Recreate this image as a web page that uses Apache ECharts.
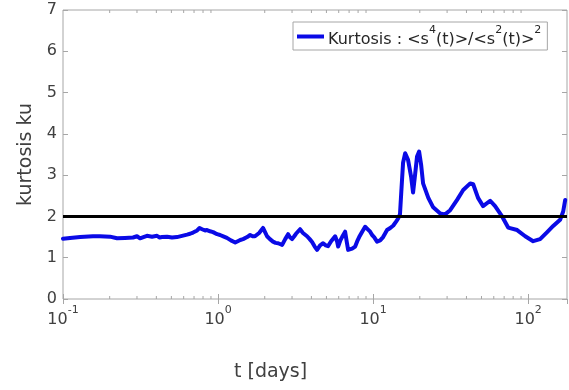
<!DOCTYPE html>
<html>
<head>
<meta charset="utf-8">
<script src="https://cdn.jsdelivr.net/npm/echarts@6/dist/echarts.min.js"></script>
<style>
  html, body { margin: 0; padding: 0; background: #fff; }
  #chart { width: 569px; height: 390px; }
</style>
</head>
<body>
<div id="chart"></div>
<script>
// time in days
const tDays = [
  0.100, 0.111, 0.129, 0.156, 0.173, 0.201, 0.223, 0.251, 0.283, 0.300,
  0.314, 0.330, 0.348, 0.375, 0.404, 0.420, 0.435, 0.469, 0.505, 0.520,
  0.543, 0.586, 0.631, 0.660, 0.690, 0.733, 0.760, 0.789, 0.824, 0.849,
  0.888, 0.929, 0.986, 1.03, 1.09, 1.14, 1.21, 1.29, 1.34, 1.39,
  1.45, 1.54, 1.61, 1.67, 1.73, 1.84, 1.95, 2.01, 2.07, 2.16,
  2.26, 2.35, 2.44, 2.59, 2.71, 2.83, 2.90, 3.00, 3.10, 3.18,
  3.38, 3.53, 3.75, 3.90, 4.04, 4.20, 4.35, 4.55, 4.76, 4.95,
  5.12, 5.36, 5.69, 5.85, 5.95, 6.15, 6.31, 6.60, 6.75, 6.90,
  7.10, 7.32, 7.66, 7.90, 8.13, 8.50, 8.88, 9.28, 9.57, 9.85,
  10.15, 10.6, 11.1, 11.6, 12.0, 12.3, 12.9, 13.5, 14.1, 14.5,
  14.9, 15.2, 15.6, 16.1, 16.8, 17.6, 18.1, 18.7, 19.2, 19.8,
  20.4, 21.0, 22.7, 24.4, 27.1, 29.1, 31.4, 34.8, 38.1, 42.3,
  44.2, 47.5, 51.2, 56.9, 61.2, 67.9, 74.3, 84.9, 95.7, 107.7,
  119.4, 132.6, 145, 160.7, 168.2, 173.3
];
// kurtosis <s^4>/<s^2>^2
const kurtosis = [
  1.46, 1.48, 1.50, 1.52, 1.52, 1.51, 1.47, 1.48, 1.49, 1.52,
  1.47, 1.50, 1.53, 1.51, 1.53, 1.49, 1.50, 1.51, 1.49, 1.53,
  1.50, 1.53, 1.56, 1.58, 1.61, 1.66, 1.72, 1.69, 1.66, 1.67,
  1.64, 1.62, 1.57, 1.55, 1.51, 1.48, 1.42, 1.37, 1.40, 1.43,
  1.45, 1.50, 1.55, 1.52, 1.52, 1.60, 1.72, 1.62, 1.52, 1.45,
  1.39, 1.36, 1.35, 1.31, 1.45, 1.57, 1.50, 1.45, 1.52, 1.58,
  1.69, 1.60, 1.52, 1.45, 1.38, 1.27, 1.19, 1.30, 1.35, 1.30,
  1.28, 1.40, 1.52, 1.40, 1.27, 1.42, 1.50, 1.63, 1.40, 1.19,
  1.21, 1.22, 1.27, 1.40, 1.50, 1.63, 1.75, 1.68, 1.63, 1.55,
  1.50, 1.39, 1.42, 1.50, 1.60, 1.67, 1.72, 1.78, 1.88, 1.95,
  2.05, 2.60, 3.30, 3.53, 3.37, 2.95, 2.58, 3.05, 3.45, 3.57,
  3.25, 2.80, 2.45, 2.22, 2.07, 2.05, 2.15, 2.40, 2.64, 2.80,
  2.78, 2.45, 2.25, 2.38, 2.25, 2.00, 1.73, 1.67, 1.52, 1.40,
  1.45, 1.62, 1.77, 1.92, 2.12, 2.40
];
// Gaussian reference level
const refLevel = 2;
const xMin = 0.1, xMax = 178;
const yMin = 0, yMax = 7;
const yTicks = [0, 1, 2, 3, 4, 5, 6, 7];
const xDecadeLabels = { '-1': '-1', '0': '0', '1': '1', '2': '2' };
// minor (log) tick positions
const minorTicks = [];
for (let e = -1; e <= 2; e++) {
  for (let m = 2; m <= 9; m++) {
    const v = m * Math.pow(10, e);
    if (v < xMax) minorTicks.push(v);
  }
}

const FONT = 'DejaVu Sans';
const LABEL = '#404040';
const FRAME = '#a6a6a6';

const chart = echarts.init(document.getElementById('chart'), null, { renderer: 'canvas' });

function decadeLabel(v) {
  const e = Math.round(Math.log10(v));
  if (Math.abs(Math.log10(v) - e) > 1e-6) return '';
  const key = String(e);
  if (!(key in xDecadeLabels)) return '';
  return '{b|10}{sup|' + xDecadeLabels[key] + '}';
}

const richTick = {
  b: { fontFamily: FONT, fontSize: 16, color: LABEL, verticalAlign: 'bottom', lineHeight: 23 },
  sup: { fontFamily: FONT, fontSize: 11, color: LABEL, verticalAlign: 'top', lineHeight: 23 }
};

const xBase = {
  type: 'log', logBase: 10, min: xMin, max: xMax,
  axisLine: { show: false },
  splitLine: { show: false },
  axisTick: { show: true, inside: true, length: 5, lineStyle: { color: FRAME } }
};
const yBase = {
  type: 'value', min: yMin, max: yMax, interval: 1,
  axisLine: { show: false },
  splitLine: { show: false },
  axisTick: { show: true, inside: true, length: 5, lineStyle: { color: FRAME } }
};

chart.setOption({
  animation: false,
  backgroundColor: '#ffffff',
  grid: { left: 63, top: 10, right: 2, bottom: 91, show: true, borderColor: FRAME, borderWidth: 1, backgroundColor: 'transparent' },
  xAxis: [
    Object.assign({}, xBase, {
      position: 'bottom',
      axisLabel: { margin: 6, formatter: decadeLabel, rich: richTick, showMaxLabel: false }
    }),
    Object.assign({}, xBase, { position: 'top', axisLabel: { show: false } })
  ],
  yAxis: [
    Object.assign({}, yBase, {
      position: 'left',
      name: 'kurtosis ku', nameLocation: 'middle', nameGap: 26,
      nameTextStyle: { fontFamily: FONT, fontSize: 19, color: LABEL },
      axisLabel: { margin: 6, fontFamily: FONT, fontSize: 16, color: LABEL,
        formatter: v => (yTicks.indexOf(v) >= 0 ? String(v) : '') }
    }),
    Object.assign({}, yBase, { position: 'right', axisLabel: { show: false } })
  ],
  legend: {
    data: ['Kurtosis'],
    left: 293, top: 22,
    orient: 'horizontal',
    selectedMode: false,
    backgroundColor: '#ffffff',
    borderColor: FRAME, borderWidth: 1, borderRadius: 0,
    padding: [3, 6, 2, 4],
    icon: 'rect', itemWidth: 27, itemHeight: 4, itemGap: 5,
    formatter: () => '{b|Kurtosis : <s}{sup|4}{b|(t)>/<s}{sup|2}{b|(t)>}{sup|2}',
    textStyle: {
      padding: [0, 0, 0, -1],
      rich: {
        b: { fontFamily: FONT, fontSize: 16, color: '#262626', verticalAlign: 'bottom', lineHeight: 23 },
        sup: { fontFamily: FONT, fontSize: 11, color: '#262626', verticalAlign: 'top', lineHeight: 23 }
      }
    }
  },
  graphic: [{
    type: 'text', left: 234, top: 363,
    style: { text: 't [days]', fontFamily: FONT, fontSize: 19, fill: LABEL }
  }],
  series: [
    {
      name: 'Kurtosis', type: 'line',
      data: tDays.map((t, i) => [t, kurtosis[i]]),
      showSymbol: false, smooth: false,
      lineStyle: { color: '#0a0ae6', width: 4, join: 'round', cap: 'round' },
      itemStyle: { color: '#0a0ae6' },
      z: 3
    },
    {
      name: 'ref', type: 'line',
      data: [[xMin, refLevel], [xMax, refLevel]],
      showSymbol: false,
      lineStyle: { color: '#000000', width: 3 },
      z: 4
    },
    {
      name: 'minor', type: 'custom',
      data: minorTicks.map(v => [v, 0]),
      renderItem: (params, api) => {
        const t = api.value(0);
        const b = api.coord([t, yMin]);
        const tp = api.coord([t, yMax]);
        const st = { stroke: FRAME, lineWidth: 1 };
        return {
          type: 'group',
          children: [
            { type: 'line', shape: { x1: b[0], y1: b[1], x2: b[0], y2: b[1] - 3 }, style: st },
            { type: 'line', shape: { x1: tp[0], y1: tp[1], x2: tp[0], y2: tp[1] + 3 }, style: st }
          ]
        };
      },
      silent: true, z: 2
    }
  ]
});
</script>
</body>
</html>
